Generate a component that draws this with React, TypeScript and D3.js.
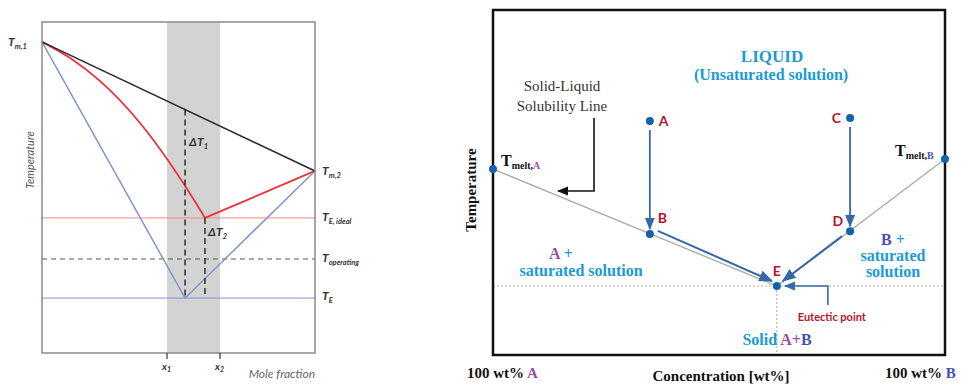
import React from 'react'
import * as d3 from 'd3'

// ---- left panel (freezing point depression sketch), x = mole fraction, y = temperature
const meltLine: [number, number][] = [[0, 94], [1, 55]]
const idealLeft: [number, number][] = [[0, 94], [0.103, 89.1], [0.212, 82.2], [0.359, 69.5], [0.524, 50.5], [0.597, 40.8]]
const idealRight: [number, number][] = [[0.597, 40.8], [1, 55]]
const realLiquidus: [number, number][] = [[0, 94], [0.524, 16.6], [1, 55]]
const bandX = [0.458, 0.652]
const tIdeal = 40.8
const tOperating = 28.4
const tEutectic = 16.6
const tickLabels = ['x', 'x']

// ---- right panel (eutectic phase diagram), x = wt% B, y = temperature
const tMeltA: [number, number] = [0, 53.9]
const tMeltB: [number, number] = [100, 56.8]
const eutectic: [number, number] = [62.8, 20]
const pathPoints = [
  { name: 'A', x: 34.7, t: 67.8 },
  { name: 'B', x: 34.7, t: 35.1 },
  { name: 'C', x: 79, t: 68.7 },
  { name: 'D', x: 79, t: 35.9 },
]

const lx = d3.scaleLinear().domain([0, 1]).range([42, 315])
const ly = d3.scaleLinear().domain([0, 100]).range([353, 22])
const rx = d3.scaleLinear().domain([0, 100]).range([493, 945])
const ry = d3.scaleLinear().domain([0, 100]).range([355, 10])

const lineL = d3.line<[number, number]>().x(d => lx(d[0])).y(d => ly(d[1]))
const curveL = d3.line<[number, number]>().x(d => lx(d[0])).y(d => ly(d[1])).curve(d3.curveMonotoneX)
const lineR = d3.line<[number, number]>().x(d => rx(d[0])).y(d => ry(d[1]))

const SERIF = '"Liberation Serif", "DejaVu Serif", serif'
const SANS = 'Lato, "Open Sans", sans-serif'
const LBLUE = '#1b9ad6'
const PURPLE = '#9a4f9e'
const BPURPLE = '#4a4fb8'
const DRED = '#b3162c'
const DOT = '#1462ad'
const ARROW = '#3569a6'

function TLabel({ x, y, sub, pre = '' }: { x: number; y: number; sub: string; pre?: string }) {
  return (
    <text x={x} y={y} fontFamily={SANS} fontStyle="italic" fontWeight="bold" fontSize={12} fill="#333">
      {pre}T<tspan fontSize={7.5} dy={3}>{sub}</tspan>
    </text>
  )
}

function LeftPanel() {
  const x1 = lx(bandX[0]), x2 = lx(bandX[1])
  const xm = lx(realLiquidus[1][0]), xi = lx(idealLeft[idealLeft.length - 1][0])
  const topAtXm = ly(meltLine[0][1] + (meltLine[1][1] - meltLine[0][1]) * realLiquidus[1][0])
  return (
    <g>
      <rect x={x1} y={22} width={x2 - x1} height={331} fill="#d3d3d3" />
      <line x1={42} x2={315} y1={ly(tIdeal)} y2={ly(tIdeal)} stroke="#f08a8a" strokeWidth={1} />
      <line x1={42} x2={315} y1={ly(tOperating)} y2={ly(tOperating)} stroke="#5a5a3a" strokeWidth={1} strokeDasharray="5,4" />
      <line x1={42} x2={315} y1={ly(tEutectic)} y2={ly(tEutectic)} stroke="#8c8ce0" strokeWidth={1} />
      <path d={lineL(realLiquidus) || ''} fill="none" stroke="#7f98c8" strokeWidth={1.5} />
      <path d={curveL(idealLeft) || ''} fill="none" stroke="#e8333d" strokeWidth={1.8} />
      <path d={lineL(idealRight) || ''} fill="none" stroke="#e8333d" strokeWidth={1.8} />
      <path d={lineL(meltLine) || ''} fill="none" stroke="#2b2b2b" strokeWidth={1.6} />
      <line x1={xm} x2={xm} y1={topAtXm} y2={ly(tEutectic)} stroke="#222" strokeWidth={1.4} strokeDasharray="6,4" />
      <line x1={xi} x2={xi} y1={ly(tIdeal)} y2={ly(tEutectic)} stroke="#222" strokeWidth={1.4} strokeDasharray="6,4" />
      <rect x={42} y={22} width={273} height={331} fill="none" stroke="#8a8a8a" strokeWidth={1.5} />
      {bandX.map((b, i) => (
        <g key={i}>
          <line x1={lx(b)} x2={lx(b)} y1={353} y2={359} stroke="#333" strokeWidth={1.2} />
          <text x={lx(b) - 5} y={370} fontFamily={SANS} fontStyle="italic" fontWeight="bold" fontSize={10} fill="#333">
            {tickLabels[i]}<tspan fontSize={7} dy={2}>{i + 1}</tspan>
          </text>
        </g>
      ))}
      <text x={315} y={378} textAnchor="end" fontFamily={SANS} fontStyle="italic" fontSize={12} fill="#666">Mole fraction</text>
      <text transform="translate(34,160) rotate(-90)" textAnchor="middle" fontFamily={SANS} fontStyle="italic" fontSize={11} fill="#555">Temperature</text>
      <TLabel x={8} y={46} sub="m,1" />
      <TLabel x={322} y={175} sub="m,2" />
      <TLabel x={322} y={221} sub="E, ideal" />
      <TLabel x={322} y={262} sub="operating" />
      <TLabel x={322} y={300} sub="E" />
      <TLabel x={189} y={146} sub="1" pre="Δ" />
      <TLabel x={208} y={236} sub="2" pre="Δ" />
    </g>
  )
}

function RightPanel() {
  const ex = rx(eutectic[0]), ey = ry(eutectic[1])
  const p = Object.fromEntries(pathPoints.map(d => [d.name, [rx(d.x), ry(d.t)]]))
  return (
    <g>
      <defs>
        <marker id="ah" viewBox="0 0 10 10" refX={9} refY={5} markerWidth={7} markerHeight={7} orient="auto-start-reverse">
          <path d="M0,1 L10,5 L0,9 Z" fill={ARROW} />
        </marker>
        <marker id="ahk" viewBox="0 0 10 10" refX={9} refY={5} markerWidth={7} markerHeight={7} orient="auto">
          <path d="M0,1 L10,5 L0,9 Z" fill="#111" />
        </marker>
      </defs>
      <line x1={rx(0)} x2={rx(100)} y1={ey} y2={ey} stroke="#aaa" strokeWidth={1} strokeDasharray="2,2" />
      <line x1={ex} x2={ex} y1={ey} y2={ry(0)} stroke="#aaa" strokeWidth={1} strokeDasharray="2,2" />
      <path d={lineR([tMeltA, eutectic, tMeltB]) || ''} fill="none" stroke="#a8a8a8" strokeWidth={1.3} />
      <rect x={rx(0)} y={ry(100)} width={rx(100) - rx(0)} height={ry(0) - ry(100)} fill="none" stroke="#111" strokeWidth={2.5} />
      {/* cooling paths */}
      <line x1={p.A[0]} x2={p.B[0]} y1={p.A[1] + 9} y2={p.B[1] - 5} stroke={ARROW} strokeWidth={1.8} markerEnd="url(#ah)" />
      <line x1={p.C[0]} x2={p.D[0]} y1={p.C[1] + 9} y2={p.D[1] - 5} stroke={ARROW} strokeWidth={1.8} markerEnd="url(#ah)" />
      <line x1={p.B[0] + 8} x2={ex - 5} y1={p.B[1] - 3} y2={ey - 5} stroke={ARROW} strokeWidth={2} markerEnd="url(#ah)" />
      <line x1={p.D[0] - 8} x2={ex + 6} y1={p.D[1] + 5} y2={ey - 5} stroke={ARROW} strokeWidth={2} markerEnd="url(#ah)" />
      <path d={`M${ex + 51},${ey + 19} V${ey} H${ex + 8}`} fill="none" stroke={ARROW} strokeWidth={1.6} markerEnd="url(#ah)" />
      <path d={`M594,118 V191 H558`} fill="none" stroke="#111" strokeWidth={1.6} markerEnd="url(#ahk)" />
      {[tMeltA, tMeltB, eutectic].map((d, i) => (
        <circle key={i} cx={rx(d[0])} cy={ry(d[1])} r={4} fill={DOT} />
      ))}
      {pathPoints.map(d => (
        <circle key={d.name} cx={rx(d.x)} cy={ry(d.t)} r={4} fill={DOT} />
      ))}
      <g fontFamily={SANS} fontWeight="bold" fontSize={14} fill={DRED}>
        <text x={p.A[0] + 9} y={p.A[1] + 5}>A</text>
        <text x={p.B[0] + 8} y={p.B[1] - 11}>B</text>
        <text x={p.C[0] - 9} y={p.C[1] + 5} textAnchor="end">C</text>
        <text x={p.D[0] - 7} y={p.D[1] - 5} textAnchor="end">D</text>
        <text x={ex} y={ey - 10} textAnchor="middle">E</text>
      </g>
      <text x={ex + 55} y={ey + 35} textAnchor="middle" fontFamily={SANS} fontWeight="bold" fontSize={11} fill={DRED}>Eutectic point</text>
      <g fontFamily={SERIF} fontWeight="bold" fill={LBLUE} textAnchor="middle">
        <text x={772} y={62} fontSize={17}>LIQUID</text>
        <text x={771} y={80} fontSize={16}>(Unsaturated solution)</text>
        <text x={581} y={276} fontSize={16}>saturated solution</text>
        <text x={893} y={261} fontSize={16}>saturated</text>
        <text x={893} y={277} fontSize={16}>solution</text>
      </g>
      <text x={561} y={259} textAnchor="middle" fontFamily={SERIF} fontWeight="bold" fontSize={16}>
        <tspan fill={PURPLE}>A</tspan><tspan fill={LBLUE}> +</tspan>
      </text>
      <text x={893} y={245} textAnchor="middle" fontFamily={SERIF} fontWeight="bold" fontSize={16}>
        <tspan fill={BPURPLE}>B</tspan><tspan fill={LBLUE}> +</tspan>
      </text>
      <text x={777} y={345} textAnchor="middle" fontFamily={SERIF} fontWeight="bold" fontSize={16}>
        <tspan fill={LBLUE}>Solid </tspan><tspan fill={PURPLE}>A+</tspan><tspan fill={BPURPLE}>B</tspan>
      </text>
      <g fontFamily={SERIF} fontSize={15} fill="#333" textAnchor="middle">
        <text x={562} y={91}>Solid-Liquid</text>
        <text x={562} y={111}>Solubility Line</text>
      </g>
      <text x={501} y={166} fontFamily={SERIF} fontWeight="bold" fontSize={16} fill="#111">
        T<tspan fontSize={10} dy={3}>melt,</tspan><tspan fontSize={10} fill={PURPLE}>A</tspan>
      </text>
      <text x={895} y={156} fontFamily={SERIF} fontWeight="bold" fontSize={16} fill="#111">
        T<tspan fontSize={10} dy={3}>melt,</tspan><tspan fontSize={10} fill={BPURPLE}>B</tspan>
      </text>
      <text transform="translate(476,190) rotate(-90)" textAnchor="middle" fontFamily={SERIF} fontWeight="bold" fontSize={15} fill="#111">Temperature</text>
      <g fontFamily={SERIF} fontWeight="bold" fontSize={15} fill="#111">
        <text x={467} y={378}>100 wt% <tspan fill={PURPLE}>A</tspan></text>
        <text x={721} y={381} textAnchor="middle">Concentration [wt%]</text>
        <text x={885} y={378}>100 wt% <tspan fill={BPURPLE}>B</tspan></text>
      </g>
    </g>
  )
}

export default function App() {
  return (
    <svg width={966} height={384} style={{ display: 'block', position: 'absolute', left: 0, top: 0, background: '#fff' }}>
      <rect width={966} height={384} fill="#fff" />
      <LeftPanel />
      <RightPanel />
    </svg>
  )
}
